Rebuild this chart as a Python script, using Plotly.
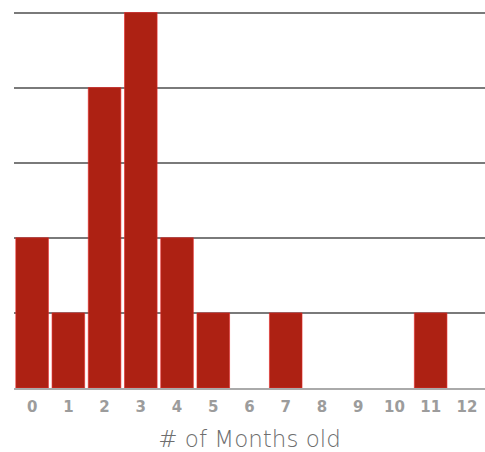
import plotly.graph_objects as go

months = [str(i) for i in range(13)]
counts = [2, 1, 4, 5, 2, 1, 0, 1, 0, 0, 0, 1, 0]
x_title = "# of Months old"

fig = go.Figure(go.Bar(
    x=months, y=counts,
    marker=dict(color="#ad2113",
                line=dict(color="rgba(230,40,40,0.6)", width=[1 if c > 0 else 0 for c in counts])),
))
fig.update_layout(
    width=485, height=452,
    margin=dict(l=14, r=0, t=11, b=64),
    paper_bgcolor="white", plot_bgcolor="white",
    bargap=0.1,
    showlegend=False,
    xaxis=dict(
        type="category",
        range=[-0.5, 12.5],
        showgrid=False,
        showline=True, linecolor="#aaaaaa", linewidth=1.5,
        ticks="", ticklabelstandoff=4,
        tickfont=dict(family="DejaVu Sans", size=15, color="#9c9c9c", weight="bold"),
        title=dict(text=x_title, font=dict(family="DejaVu Sans", size=23, color="#6e6e6e", weight=300), standoff=20),
        automargin=False,
    ),
    yaxis=dict(
        range=[0, 5.02], tickvals=[1, 2, 3, 4, 5],
        showgrid=True, gridcolor="#7a7a7a", gridwidth=1.5,
        showticklabels=False, zeroline=False, ticks="",
        automargin=False,
    ),
)
fig.write_html("out.html", config={"displayModeBar": False},
               post_script="document.body.style.margin='0';")
